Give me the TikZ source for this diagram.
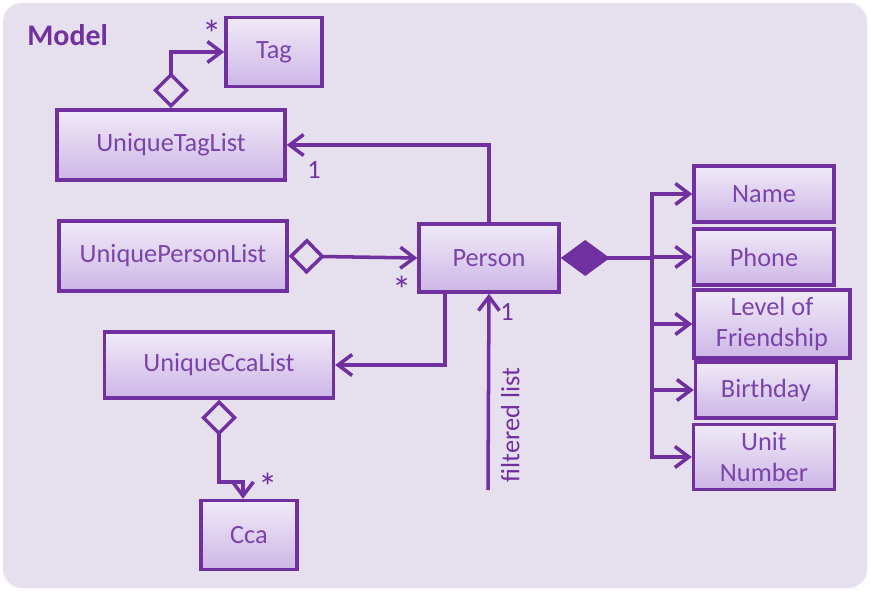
\documentclass[tikz,border=0pt]{standalone}
\usepackage{fontspec}
\setmainfont{Carlito}
\usetikzlibrary{arrows.meta}
\definecolor{umlpurple}{HTML}{7030A0}
\definecolor{umltext}{HTML}{7A44AA}
\definecolor{bgpurple}{HTML}{E6E0EE}
\definecolor{boxtop}{HTML}{F0EAF8}
\definecolor{boxbot}{HTML}{CDB6E6}
\begin{document}
\begin{tikzpicture}[x=0.02cm,y=-0.02cm,
  cls/.style={draw=umlpurple,line width=2pt,top color=boxtop,bottom color=boxbot,
    text=umltext,font=\fontsize{15}{18}\selectfont,align=center,inner sep=0pt},
  assoc/.style={draw=umlpurple,line width=2pt,-{Straight Barb[length=0.28cm,width=0.42cm]}},
  agg/.style={assoc,{Diamond[open,fill=bgpurple,length=0.72cm,width=0.72cm]}-{Straight Barb[length=0.28cm,width=0.42cm]}},
  comp/.style={draw=umlpurple,line width=2.4pt,{Diamond[length=0.98cm,width=0.72cm]}-},
  mult/.style={text=umlpurple,font=\fontsize{15}{18}\selectfont,inner sep=0pt},
  star/.style={text=umlpurple,font=\fontsize{22}{24}\selectfont,inner sep=0pt}]
\useasboundingbox (0,0) rectangle (870,591);
%background
\fill[white] (0,0) rectangle (870,591);
\draw[fill=bgpurple,draw=white!85!bgpurple,line width=1pt,rounded corners=0.4cm] (2,2) rectangle (868,589);
\node[anchor=west,inner sep=0pt,text=umlpurple,font=\fontsize{17}{20}\selectfont\bfseries] (model) at (27,35) {Model};
%classes
\node[cls,minimum width=1.92cm,minimum height=1.38cm] (tag) at (274,52) {Tag};
\node[cls,minimum width=4.56cm,minimum height=1.4cm] (utl) at (171,145) {UniqueTagList};
\node[cls,minimum width=4.56cm,minimum height=1.4cm] (upl) at (173,256) {UniquePersonList};
\node[cls,minimum width=2.8cm,minimum height=1.36cm] (person) at (489,258) {Person};
\node[cls,minimum width=4.58cm,minimum height=1.32cm] (ucl) at (219,365) {UniqueCcaList};
\node[cls,minimum width=1.92cm,minimum height=1.38cm] (cca) at (249,535) {Cca};
\node[cls,minimum width=2.8cm,minimum height=1.12cm] (name) at (764,194) {Name};
\node[cls,minimum width=2.8cm,minimum height=1.12cm] (phone) at (764,257) {Phone};
\node[cls,minimum width=3.12cm,minimum height=1.36cm] (lof) at (772,324) {Level of\\Friendship};
\node[cls,minimum width=2.82cm,minimum height=1.12cm] (bday) at (766,390) {Birthday};
\node[cls,minimum width=2.82cm,minimum height=1.3cm] (unit) at (764,457) {Unit\\Number};
%aggregations
\draw[agg] (utl.north) |- (tag.west);
\draw[agg] (upl.east) -- (person.west);
\draw[agg] (ucl.south) -- ++(0,82) -| ([xshift=-0.12cm]cca.north);
%associations
\draw[assoc] (person.north) |- (utl.east);
\draw[assoc] ([xshift=-0.88cm]person.south) |- (ucl.east);
\coordinate (fl) at (488,490);
\draw[assoc] (fl) -- (person.south) node[pos=0.33,below,rotate=90,mult,yshift=-0.22cm] {filtered list};
%composition
\coordinate (trunk) at (652,258);
\draw[comp] (person.east) -- (trunk);
\foreach \t in {name,phone,lof,bday,unit}
  \draw[assoc] (trunk) |- (\t.west);
%multiplicities
\node[star] (m1) at (212,34) {*};
\node[mult] (m2) at (314,170) {1};
\node[star] (m3) at (402,290) {*};
\node[mult] (m4) at (507,312) {1};
\node[star] (m5) at (268,487) {*};
\end{tikzpicture}
\end{document}
